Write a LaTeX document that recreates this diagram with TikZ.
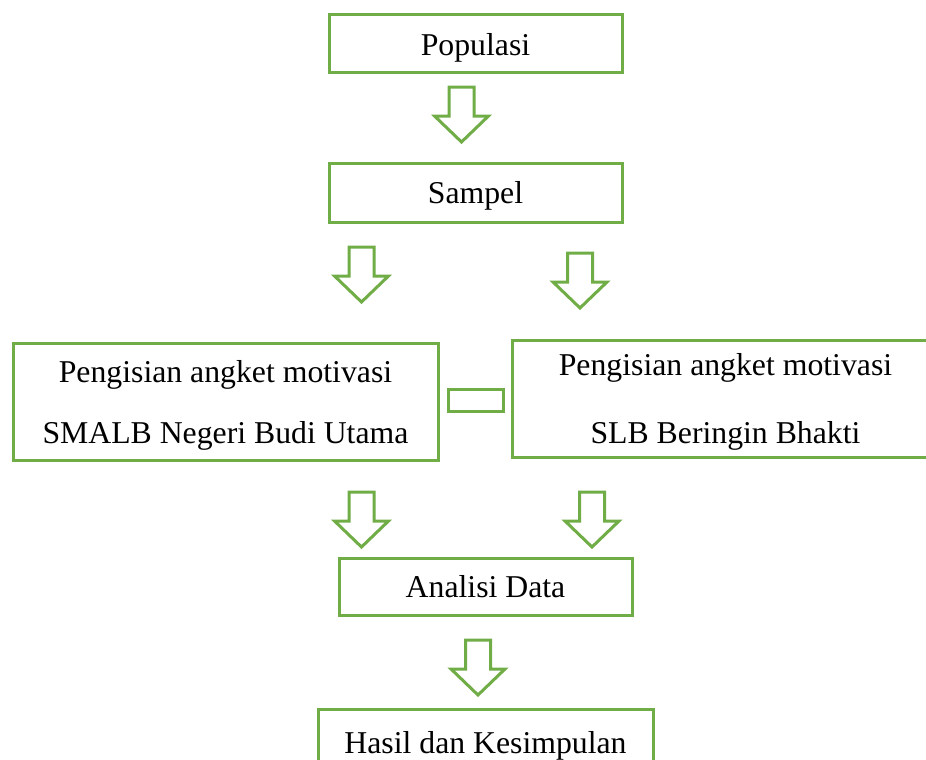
\documentclass[tikz,border=0pt]{standalone}
\usepackage{fontspec}
\setmainfont{Liberation Serif}
\usetikzlibrary{calc}
\definecolor{boxgreen}{HTML}{70AD47}
\tikzset{
	box/.style={draw=boxgreen, line width=3pt, rectangle, inner sep=0pt, align=center,
		text depth=0pt, font=\fontsize{31.75}{61}\selectfont},
	hollow/.style={draw=boxgreen, line width=3pt, line join=miter, fill=white}
}
\def\blockarrow(#1,#2){\draw[hollow] (#1,#2) ++(-12.5,0) -- ++(25,0) -- ++(0,29) -- ++(14.5,0) -- (#1,#2+55) -- ++(-27,-26) -- ++(14.5,0) -- cycle;}

\begin{document}
\begin{tikzpicture}[x=1pt, y=-1pt]
			%%%%% START %%%%%
			\useasboundingbox (0,0) rectangle (926,760);
			
			\node[box, minimum width=293pt, minimum height=58pt] (populasi) at (475.5, 44) {Populasi};
			\blockarrow(461.5,87)
			
			\node[box, minimum width=293pt, minimum height=59pt] (sampel) at (475.5, 192.5) {Sampel};
			\blockarrow(361.5,247)
			\blockarrow(580,253)
			
			\node[box, minimum width=425pt, minimum height=117pt] (angketA) at (225.5, 401.5) {Pengisian angket motivasi\\SMALB Negeri Budi Utama};
			\node[box, minimum width=427pt, minimum height=117pt] (angketB) at (725.5, 398.5) {Pengisian angket motivasi\\[7pt]SLB Beringin Bhakti};
			\node[box, minimum width=55pt, minimum height=22pt] (link) at (475.5, 400) {};
			
			\blockarrow(361.5,492)
			\blockarrow(592,492)
			
			\node[box, minimum width=293pt, minimum height=57pt] (analisi) at (485.5, 586.5) {Analisi Data};
			\blockarrow(478,640)
			
			\node[box, minimum width=335pt, minimum height=66pt] (hasil) at (485.5, 742) {Hasil dan Kesimpulan};
			
			%%%%% END %%%%%
\end{tikzpicture}
\end{document}
